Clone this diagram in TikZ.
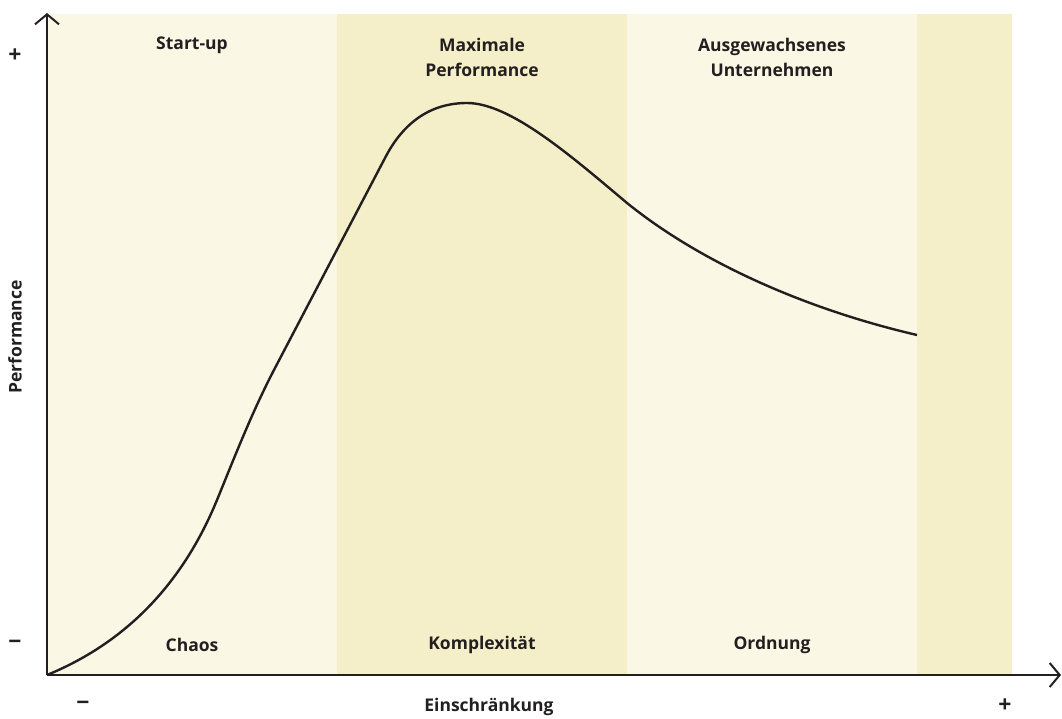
\documentclass[tikz,border=0pt]{standalone}
\usepackage{fontspec}
\setmainfont{Open Sans}
\usetikzlibrary{arrows.meta}
\definecolor{bandlight}{RGB}{250,247,228}
\definecolor{banddark}{RGB}{244,239,200}
\definecolor{ink}{RGB}{35,31,32}
\tikzset{
  lbl/.style={text=ink, font=\fontsize{17.5}{25}\selectfont\bfseries, align=center, inner sep=0pt},
  sign/.style={text=ink, font=\fontsize{23}{23}\selectfont\bfseries, inner sep=0pt},
  axis/.style={draw=ink, line width=2pt, -{Straight Barb[length=10pt, width=24pt, line width=2pt]}},
  curve/.style={draw=ink, line width=2.4pt, line join=round}
}
\begin{document}
\begin{tikzpicture}[x=1pt, y=-1pt]
  \useasboundingbox (0,0) rectangle (1062,718);
  % background bands
  \fill[bandlight] (47,14) rectangle (337,675);
  \fill[banddark]  (337,14) rectangle (627,675);
  \fill[bandlight] (627,14) rectangle (917,675);
  \fill[banddark]  (917,14) rectangle (1012,675);

  % axes
  \coordinate (origin) at (47,675);
  \coordinate (ytop) at (47,13);
  \coordinate (xend) at (1061,675);
  \draw[axis] (origin) -- (ytop);
  \draw[axis] (origin) -- (xend);

  % performance curve
  \draw[curve] (origin)
    .. controls (120,645) and (180,590) .. (217,500)
    .. controls (235,456) and (252,412) .. (275,368)
    -- (385,158)
    .. controls (403,123) and (430,103) .. (467,103)
    .. controls (510,103) and (570,155) .. (627,203)
    .. controls (700,262) and (805,309) .. (917,335);

  % phase labels
  \node[lbl] (startup) at (192,45) {Start-up};
  \node[lbl] (maxperf) at (482,57.5) {Maximale\\Performance};
  \node[lbl] (grown) at (772,57.5) {Ausgewachsenes\\Unternehmen};
  \node[lbl] (chaos) at (192,645) {Chaos};
  \node[lbl] (complex) at (482,645) {Komplexität};
  \node[lbl] (order) at (772,645) {Ordnung};

  % axis labels
  \node[lbl] (xlabel) at (489,707) {Einschränkung};
  \node[lbl, rotate=90] (ylabel) at (15,337) {Performance};
  \node[sign] (yplus) at (15,56) {+};
  \node[sign] (yminus) at (15,645) {−};
  \node[sign] (xminus) at (83,706) {−};
  \node[sign] (xplus) at (1005,706) {+};
\end{tikzpicture}
\end{document}
